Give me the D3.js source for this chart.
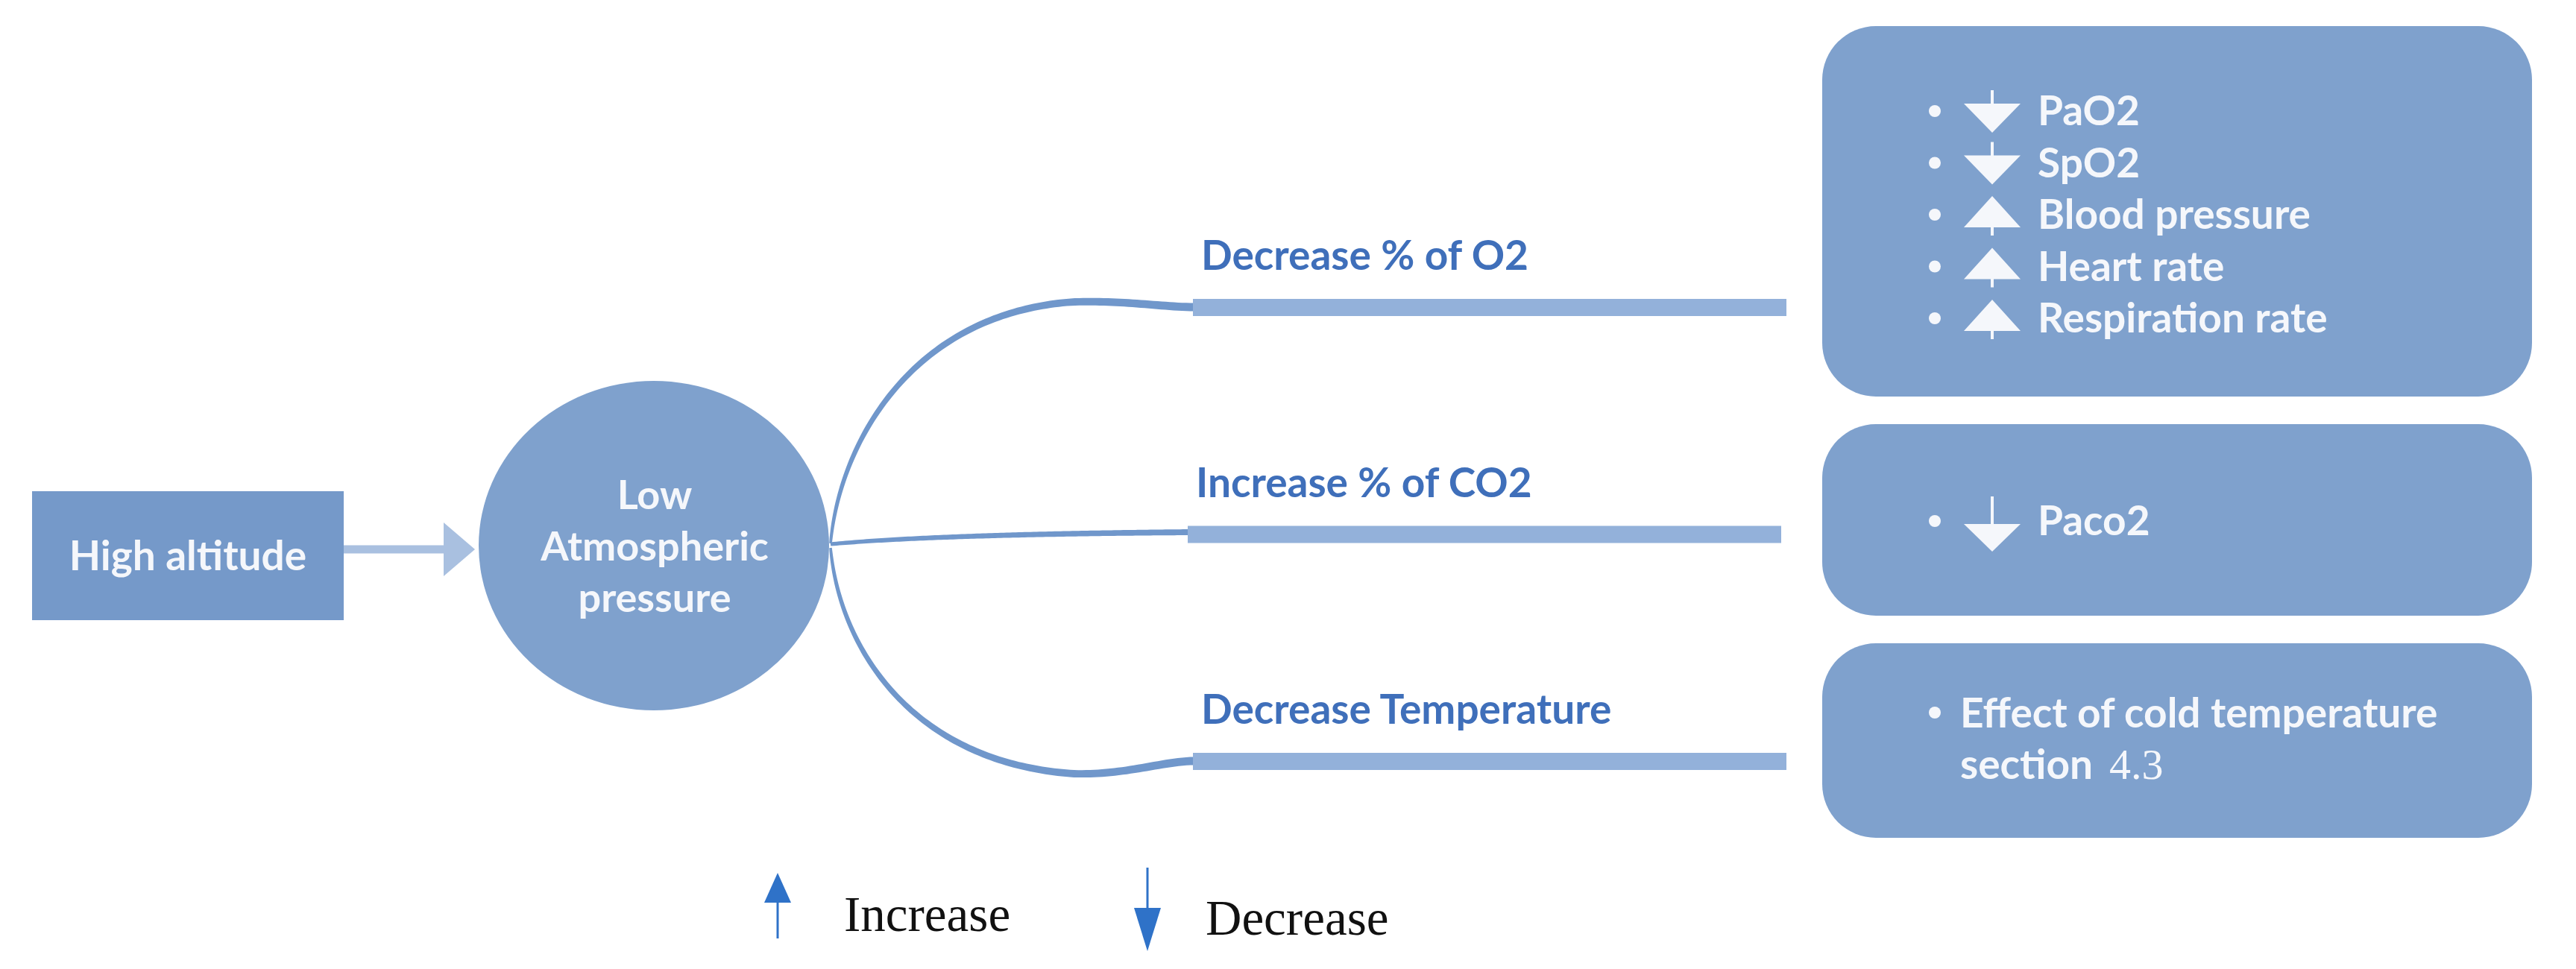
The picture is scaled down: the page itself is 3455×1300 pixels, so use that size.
<!DOCTYPE html>
<html>
<head>
<meta charset="utf-8">
<script src="https://cdn.jsdelivr.net/npm/d3@7"></script>
<style>
  body { margin: 0; background: #fff; }
  svg { display: block; }
</style>
</head>
<body>
<svg id="chart"></svg>
<script>
// Diagram content
const sourceLabel = ["High altitude"];
const causeLabel = ["Low", "Atmospheric", "pressure"];
const branches = ["Decrease % of O2", "Increase % of CO2", "Decrease Temperature"];
const o2Effects = ["PaO2", "SpO2", "Blood pressure", "Heart rate", "Respiration rate"];
const o2Directions = ["down", "down", "up", "up", "up"];
const co2Effects = ["Paco2"];
const co2Directions = ["down"];
const tempEffects = ["Effect of cold temperature", "section"];
const tempRef = "4.3";
const legendLabels = ["Increase", "Decrease"];
const legendDirections = ["up", "down"];

const W = 3455, H = 1300;
const font = "Lato, 'Open Sans', sans-serif";
const colors = {
  box: "#7fa1cd", source: "#7599c9", label: "#3f6fba", curve: "#7097cb",
  bar: "#93b1da", head: "#a9c0e0", white: "#f5f7fb", legend: "#2f72c8"
};

const svg = d3.select("#chart").attr("width", W).attr("height", H);

// layout of the diagram columns
const col = { src: 43, srcW: 418, cx: 877, cy: 732, rx: 235, ry: 221, fork: 1114, bar0: 1600, bar1: 2396, box: 2444, boxW: 952 };
// branch rows
const yBranch = d3.scalePoint().domain(branches).range([412, 1021]);

// ---- High altitude box
svg.append("rect")
  .attr("x", col.src).attr("y", 659)
  .attr("width", col.srcW).attr("height", 173)
  .attr("fill", colors.source);
svg.append("text")
  .attr("x", col.src + col.srcW / 2).attr("y", 765)
  .attr("text-anchor", "middle")
  .attr("fill", colors.white)
  .style("font", `bold 55px ${font}`)
  .text(sourceLabel[0]);

// ---- arrow to the ellipse
svg.append("line")
  .attr("x1", col.src + col.srcW).attr("x2", 598)
  .attr("y1", 737).attr("y2", 737)
  .attr("stroke", colors.head).attr("stroke-width", 11);
svg.append("path")
  .attr("d", d3.line()([[595, 701], [637, 737], [595, 773]]))
  .attr("fill", colors.head);

// ---- Low atmospheric pressure ellipse
svg.append("ellipse")
  .attr("cx", col.cx).attr("cy", col.cy)
  .attr("rx", col.rx).attr("ry", col.ry)
  .attr("fill", colors.box);
const yCause = d3.scalePoint().domain(causeLabel).range([683, 821]);
svg.selectAll(".cause")
  .data(causeLabel)
  .enter().append("text")
  .attr("x", col.cx + 1).attr("y", d => yCause(d))
  .attr("text-anchor", "middle")
  .attr("fill", colors.white)
  .style("font", `bold 54px ${font}`)
  .text(d => d);

// ---- branch curves (tapered ribbons)
function branchPath(i) {
  const p = d3.path();
  const yb = yBranch(branches[i]);
  if (i === 1) {
    p.moveTo(col.fork, 730);
    p.bezierCurveTo(1200, 722, 1350, 716, col.bar0 - 5, 714);
  } else {
    const s = i === 0 ? -1 : 1;
    const y0 = i === 0 ? 729 : 735;
    const yExt = i === 0 ? 405 : 1038;
    p.moveTo(col.fork, y0);
    p.bezierCurveTo(1125, y0 + s * 130, 1220, yExt - s * 15, 1440, yExt);
    p.bezierCurveTo(1510, yExt + s * 2, 1560, yb, col.bar0 + 2, yb);
  }
  return p.toString();
}

function ribbon(d, w0, w1) {
  const tmp = svg.append("path").attr("d", d).attr("fill", "none");
  const node = tmp.node();
  const L = node.getTotalLength();
  const n = 120;
  const pts = d3.range(n + 1).map(k => node.getPointAtLength(L * k / n));
  tmp.remove();
  const left = [], right = [];
  pts.forEach((p, k) => {
    const a = pts[Math.max(0, k - 1)], b = pts[Math.min(n, k + 1)];
    let dx = b.x - a.x, dy = b.y - a.y;
    const len = Math.hypot(dx, dy) || 1;
    dx /= len; dy /= len;
    const t = k / n;
    const w = (w0 + (w1 - w0) * Math.pow(t, 0.6)) / 2;
    left.push([p.x - dy * w, p.y + dx * w]);
    right.push([p.x + dy * w, p.y - dx * w]);
  });
  return d3.line()(left.concat(right.reverse())) + "Z";
}

svg.selectAll(".branch")
  .data(branches)
  .enter().append("path")
  .attr("d", (d, i) => i === 1 ? ribbon(branchPath(i), 5, 8) : ribbon(branchPath(i), 3.5, 11))
  .attr("fill", colors.curve);

// thick bars
svg.selectAll(".bar")
  .data(branches)
  .enter().append("rect")
  .attr("x", (d, i) => i === 1 ? col.bar0 - 7 : col.bar0)
  .attr("y", d => yBranch(d) - 11)
  .attr("width", col.bar1 - col.bar0)
  .attr("height", 23)
  .attr("fill", colors.bar);

// branch labels
svg.selectAll(".blabel")
  .data(branches)
  .enter().append("text")
  .attr("x", (d, i) => i === 1 ? 1604 : 1611)
  .attr("y", d => yBranch(d) - 50)
  .attr("fill", colors.label)
  .style("font", `bold 55px ${font}`)
  .text(d => d);

// ---- effect boxes
const boxes = [
  { y: 35, h: 497 },
  { y: 569, h: 257 },
  { y: 863, h: 261 }
];
svg.selectAll(".ebox")
  .data(boxes)
  .enter().append("rect")
  .attr("x", col.box).attr("y", d => d.y)
  .attr("width", col.boxW).attr("height", d => d.h)
  .attr("rx", 72).attr("ry", 72)
  .attr("fill", colors.box);

const bulletX = 2595, iconX = 2672, textX = 2733;

// arrow = stem [s0, s1] + triangle from base to apex (all y offsets from cy)
function drawArrow(g, cx, cy, a, color, stroke) {
  g.append("line").attr("x1", cx).attr("x2", cx)
    .attr("y1", cy + a.s0).attr("y2", cy + a.s1)
    .attr("stroke", color).attr("stroke-width", stroke);
  g.append("path")
    .attr("d", d3.line()([[cx - a.w / 2, cy + a.base], [cx + a.w / 2, cy + a.base], [cx, cy + a.apex]]))
    .attr("fill", color);
}

const arrowShapes = {
  down: { w: 76, s0: -28, s1: -8, base: -10, apex: 29 },
  up: { w: 76, s0: 14, s1: 28, base: 17, apex: -25 },
  paco: { w: 76, s0: -33, s1: 6, base: 4, apex: 41 }
};

function drawItems(items, dirs, yRange, shapeFor) {
  const y = d3.scalePoint().domain(items).range(yRange);
  const g = svg.append("g");
  items.forEach((d, i) => {
    const cy = y(d);
    g.append("circle").attr("cx", bulletX).attr("cy", cy).attr("r", 8).attr("fill", colors.white);
    drawArrow(g, iconX, cy, shapeFor(dirs[i]), colors.white, 4);
    g.append("text")
      .attr("x", textX).attr("y", cy + 19)
      .attr("fill", colors.white)
      .style("font", `bold 55px ${font}`)
      .text(d);
  });
}

drawItems(o2Effects, o2Directions, [149, 427], dir => arrowShapes[dir]);
drawItems(co2Effects, co2Directions, [699, 699], dir => dir === "down" ? arrowShapes.paco : arrowShapes.up);

// temperature box: bullet text with a serif section number
const yTemp = d3.scalePoint().domain(tempEffects).range([976, 1045]);
svg.append("circle").attr("cx", bulletX).attr("cy", 956).attr("r", 8).attr("fill", colors.white);
const tt = svg.selectAll(".temp")
  .data(tempEffects)
  .enter().append("text")
  .attr("x", 2629).attr("y", d => yTemp(d))
  .attr("fill", colors.white)
  .style("font", `bold 55px ${font}`)
  .text(d => d);
tt.filter((d, i) => i === 1)
  .append("tspan")
  .attr("dx", 22)
  .style("font", "58px 'Liberation Serif', serif")
  .text(tempRef);

// ---- legend
const xLegend = d3.scalePoint().domain(legendLabels).range([1043, 1539]);
const legendShapes = {
  up: { w: 36, s0: 36, s1: 88, base: 40, apex: 0 },
  down: { w: 36, s0: 0, s1: 56, base: 54, apex: 112 }
};
const lg = svg.append("g");
legendLabels.forEach((d, i) => {
  const cx = xLegend(d);
  drawArrow(lg, cx, legendDirections[i] === "up" ? 1171 : 1164, legendShapes[legendDirections[i]], colors.legend, 3);
  lg.append("text")
    .attr("x", cx + (i === 0 ? 89 : 78))
    .attr("y", i === 0 ? 1249 : 1254)
    .attr("fill", "#111")
    .style("font", "67px 'Liberation Serif', serif")
    .text(d);
});
</script>
</body>
</html>
